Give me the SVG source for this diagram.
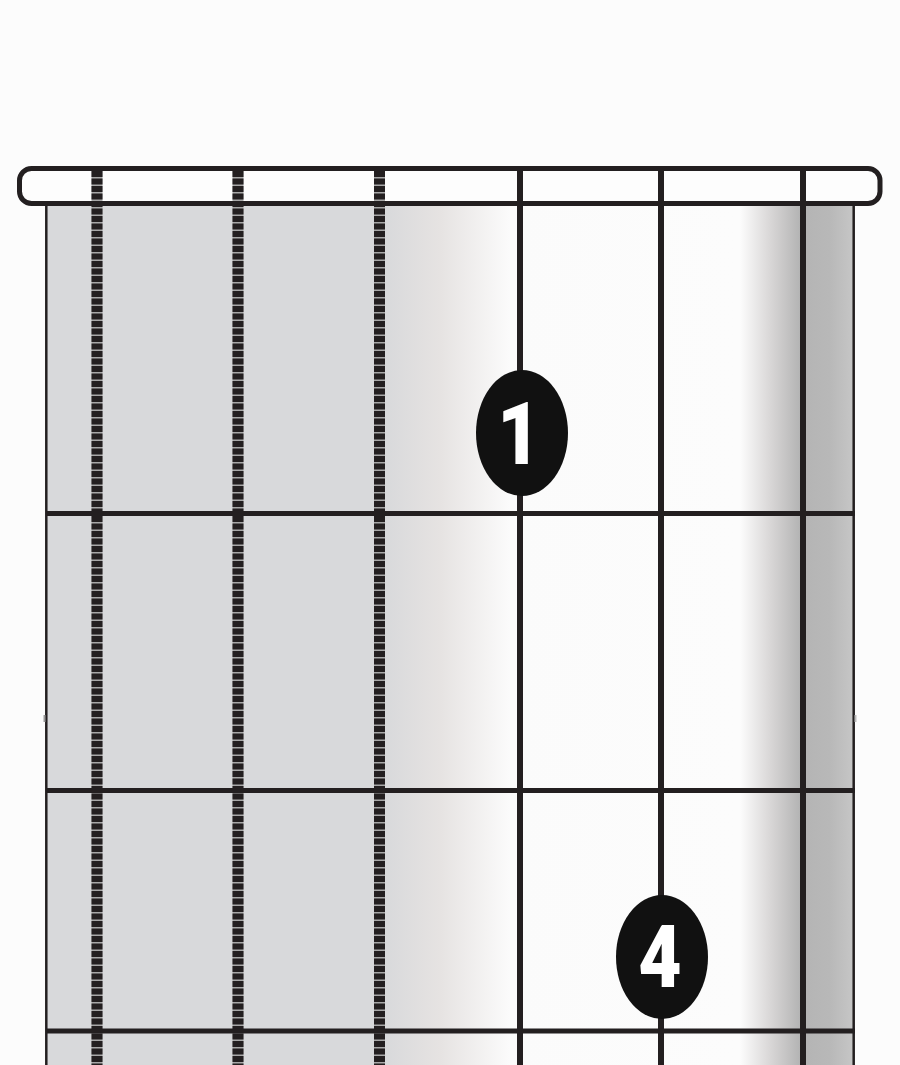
<svg xmlns="http://www.w3.org/2000/svg" width="900" height="1065" viewBox="0 0 900 1065">
  <defs>
    <linearGradient id="board" gradientUnits="userSpaceOnUse" x1="47" y1="0" x2="853" y2="0">
      <stop offset="0" stop-color="#d8d9db"/>
      <stop offset="0.419" stop-color="#d8d9db"/>
      <stop offset="0.488" stop-color="#e6e3e2"/>
      <stop offset="0.574" stop-color="#fbfbfb"/>
      <stop offset="0.860" stop-color="#fcfcfc"/>
      <stop offset="0.897" stop-color="#d9d7d7"/>
      <stop offset="0.934" stop-color="#b4b4b4"/>
      <stop offset="0.971" stop-color="#b8b8b8"/>
      <stop offset="1" stop-color="#c6c6c6"/>
    </linearGradient>
  </defs>
  <style>
    .wound-base { stroke: #a8a8a8; stroke-width: 11; }
    .wound { stroke: #231f20; stroke-width: 11; stroke-dasharray: 6 1.5; }
    .plain { stroke: #231f20; stroke-width: 6; }
    .fret { stroke: #231f20; stroke-width: 5; }
    .edge { stroke: #231f20; stroke-width: 2.5; }
    .dot { fill: #111111; }
    .num { fill: #ffffff; font-family: Roboto, "Liberation Sans", Arial, sans-serif; font-weight: 900; font-size: 88px; text-anchor: middle; }
  </style>
  <rect x="0" y="0" width="900" height="1065" fill="#fcfcfc"/>

  <g id="fretboard">
    <rect x="47" y="205" width="806" height="860" fill="url(#board)"/>
    <line class="edge" x1="46.3" y1="205" x2="46.3" y2="1065"/>
    <line class="edge" x1="853.7" y1="205" x2="853.7" y2="1065"/>
    <rect x="43.5" y="715" width="2" height="7" fill="#999"/>
    <rect x="854.5" y="715" width="2" height="7" fill="#bbb"/>
  </g>

  <g id="nut-fill">
    <rect x="19.5" y="168.5" width="860.5" height="35" rx="12" fill="#fdfdfd"/>
  </g>

  <g id="strings">
    <line class="wound-base" x1="97" y1="171" x2="97" y2="1065"/>
    <line class="wound" x1="97" y1="171" x2="97" y2="1065"/>
    <line class="wound-base" x1="238" y1="171" x2="238" y2="1065"/>
    <line class="wound" x1="238" y1="171" x2="238" y2="1065"/>
    <line class="wound-base" x1="379.5" y1="171" x2="379.5" y2="1065"/>
    <line class="wound" x1="379.5" y1="171" x2="379.5" y2="1065"/>
    <line class="plain" x1="520" y1="171" x2="520" y2="1065"/>
    <line class="plain" x1="661" y1="171" x2="661" y2="1065"/>
    <line class="plain" x1="803" y1="171" x2="803" y2="1065"/>
  </g>

  <g id="nut">
    <rect x="19.5" y="168.5" width="860.5" height="35" rx="12" fill="none" stroke="#231f20" stroke-width="5"/>
  </g>

  <g id="frets">
    <line class="fret" x1="46" y1="513.5" x2="855" y2="513.5"/>
    <line class="fret" x1="46" y1="790.5" x2="855" y2="790.5"/>
    <line class="fret" x1="46" y1="1031" x2="855" y2="1031"/>
  </g>

  <g id="finger-1">
    <ellipse class="dot" cx="522" cy="433" rx="46" ry="63"/>
    <text class="num" transform="translate(519 464) scale(0.85 1)" x="0" y="0">1</text>
  </g>

  <g id="finger-4">
    <ellipse class="dot" cx="662" cy="957" rx="46" ry="62"/>
    <text class="num" transform="translate(660 987) scale(0.85 1)" x="0" y="0">4</text>
  </g>
</svg>
